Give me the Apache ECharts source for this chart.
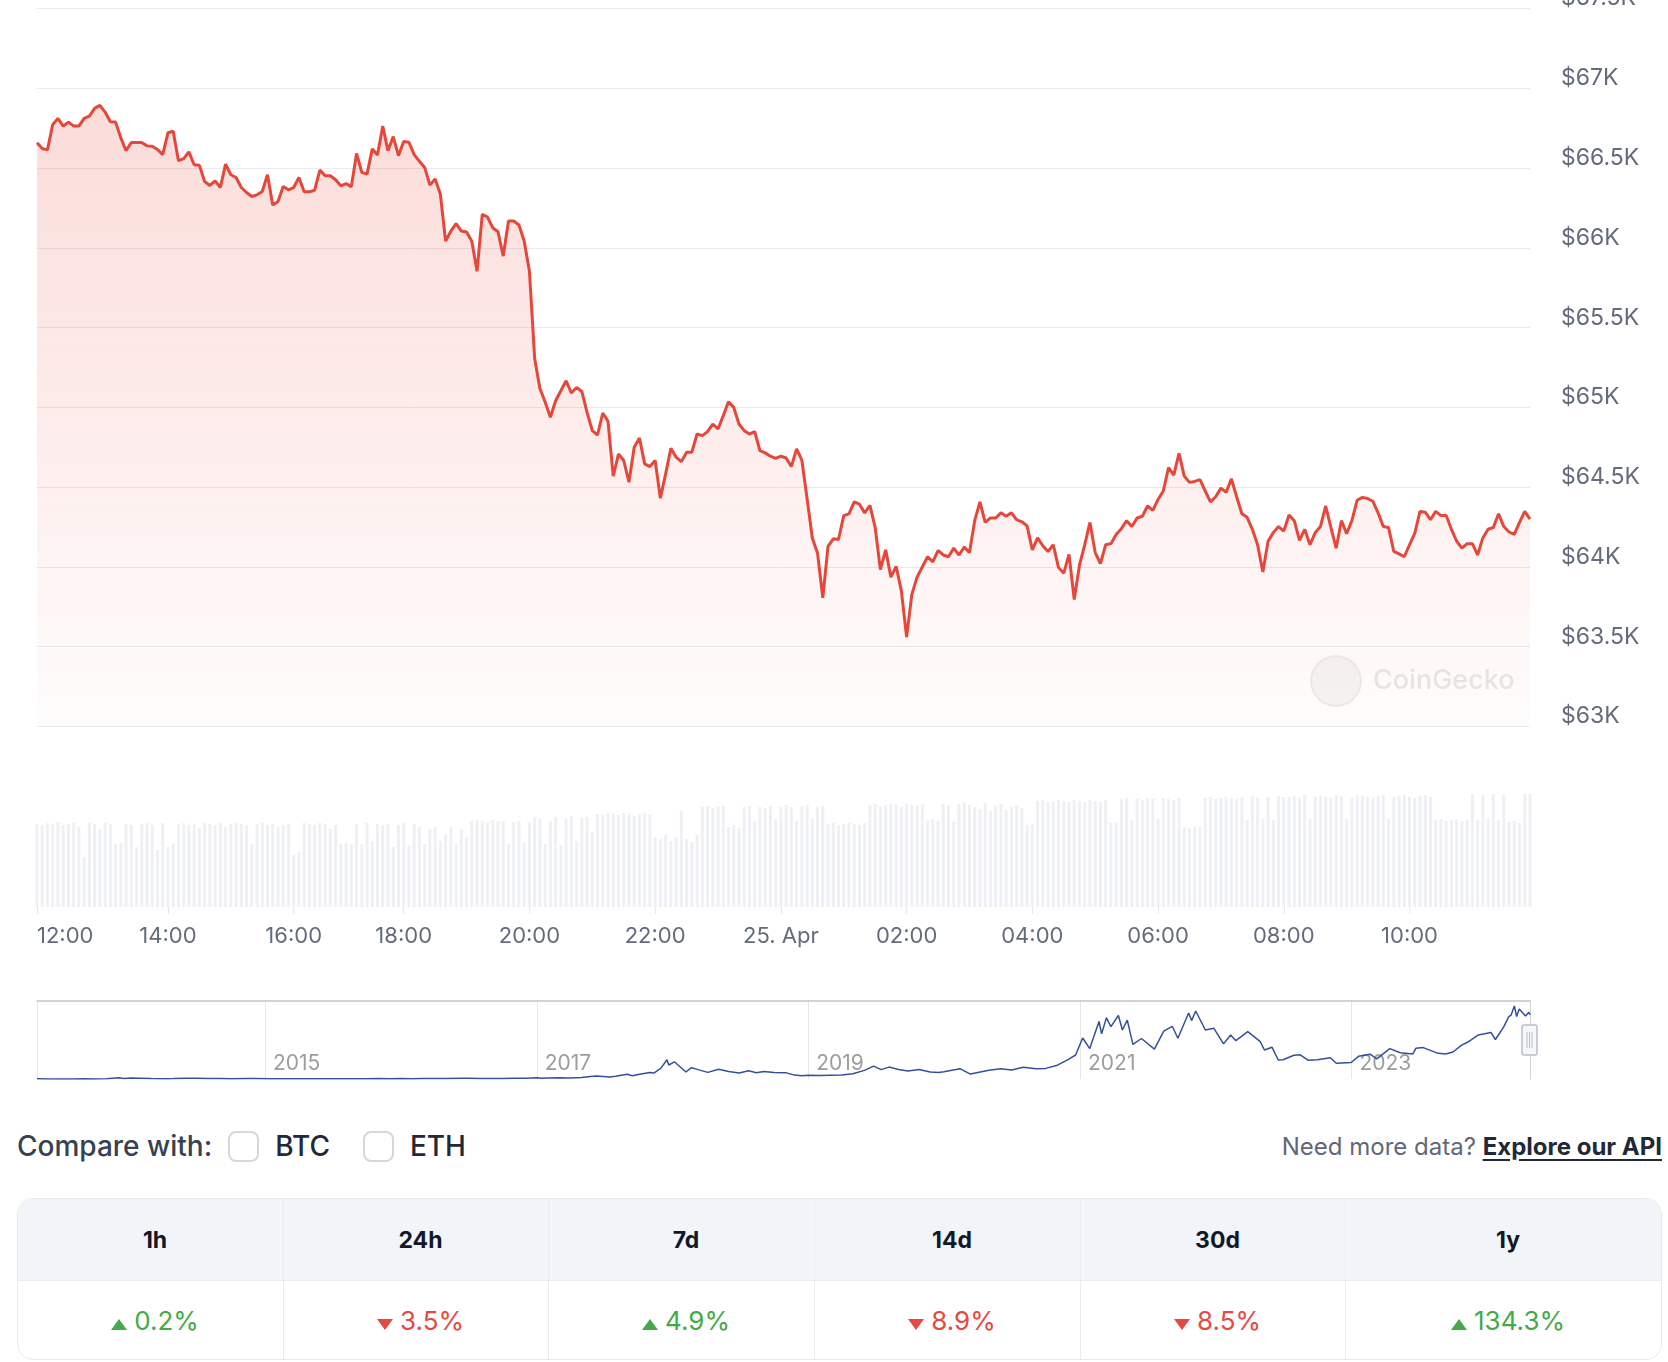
<!DOCTYPE html>
<html>
<head>
<meta charset="utf-8">
<script src="https://cdn.jsdelivr.net/npm/echarts@6/dist/echarts.min.js"></script>
<style>
  html, body { margin: 0; padding: 0; background: #fff; font-family: Inter, "Noto Sans", sans-serif; }
  #main { position: absolute; left: 0; top: 0; width: 1668px; height: 1100px; }
  .row { position: absolute; top: 1125px; left: 17px; width: 1645px; height: 42px; display: flex; align-items: center; }
  .cmp { font-size: 28px; font-weight: 500; color: #364152; margin-right: 16px; }
  .box { width: 31px; height: 31px; box-sizing: border-box; border: 2px solid #d3d8e0; border-radius: 8px; margin-right: 16px; }
  .coin { font-size: 28px; font-weight: 500; color: #1f2937; margin-right: 33px; }
  .more { margin-left: auto; font-size: 24px; color: #5f6878; }
  .more b { color: #1f2937; text-decoration: underline; text-underline-offset: 4px; font-weight: 700; }
  .tbl { position: absolute; left: 17px; top: 1198px; width: 1645px; height: 162px; box-sizing: border-box;
         border: 1px solid #e6e9ee; border-radius: 16px; overflow: hidden;
         display: grid; grid-template-columns: 265px 265px 266px 266px 265px 1fr; grid-template-rows: 82px 1fr; }
  .tbl div { display: flex; align-items: center; justify-content: center; padding-left: 9px; border-left: 1px solid #e9ecf0; }
  .tbl div.first { border-left: none; }
  .tbl .h { background: #f1f4f9; font-size: 23px; font-weight: 700; color: #111827; border-bottom: 1px solid #e9ecf0; }
  .tbl .v { font-size: 26px; }
  .up { color: #45a948; }
  .down { color: #e8483f; }
  .tri { display: inline-block; width: 0; height: 0; margin-right: 7px; border-left: 8px solid transparent; border-right: 8px solid transparent; }
  .up .tri { border-bottom: 11px solid #45a948; }
  .down .tri { border-top: 11px solid #e8483f; }
</style>
</head>
<body>
<div id="main"></div>
<div class="row">
  <span class="cmp">Compare with:</span>
  <span class="box"></span><span class="coin">BTC</span>
  <span class="box"></span><span class="coin">ETH</span>
  <span class="more">Need more data? <b>Explore our API</b></span>
</div>
<div class="tbl" id="tbl"></div>
<script>
// price, 5 min steps, 24 Apr 12:00 -> 25 Apr ~11:50
const prices = [
  66658, 66622, 66614, 66773, 66811, 66763, 66788, 66763, 66763, 66811,
  66826, 66874, 66893, 66851, 66790, 66788, 66689, 66609, 66660, 66660,
  66660, 66639, 66637, 66616, 66584, 66721, 66731, 66546, 66559, 66601,
  66521, 66517, 66416, 66391, 66420, 66378, 66525, 66458, 66441, 66378,
  66347, 66322, 66332, 66353, 66458, 66269, 66290, 66385, 66364,
  66378, 66441, 66351, 66351, 66361, 66487, 66452, 66452, 66427, 66389,
  66403, 66382, 66592, 66473, 66462, 66620, 66582, 66763, 66609, 66697,
  66578, 66666, 66662, 66584, 66542, 66504, 66393, 66431, 66336, 66042,
  66105, 66151, 66105, 66099, 66042, 65853, 66210, 66193, 66126, 66101,
  65948, 66168, 66168, 66143, 66042, 65853, 65307, 65118, 65034,
  64938, 65042, 65104, 65167, 65090, 65125, 65100, 64969, 64854, 64827,
  64965, 64913, 64569, 64708, 64667, 64531, 64750, 64808, 64646, 64629,
  64667, 64431, 64583, 64744, 64688, 64660, 64719, 64719, 64833, 64823,
  64848, 64896, 64865, 64948, 65035, 65000, 64896, 64854, 64833, 64848,
  64729, 64715, 64694, 64681, 64694, 64683, 64629,
  64740, 64670, 64429, 64182, 64086, 63807, 64129, 64176, 64172, 64322,
  64333, 64408, 64393, 64339, 64386, 64247, 63983, 64107, 63936, 64004,
  63850, 63560, 63828, 63936, 64000, 64064, 64032, 64103, 64075, 64064,
  64118, 64075, 64124, 64090, 64290, 64408, 64279, 64307, 64307, 64339,
  64318, 64339, 64296, 64283, 64257, 64107, 64182, 64133,
  64097, 64139, 63996, 63961, 64079, 63796, 64011, 64139, 64279, 64090,
  64021, 64139, 64146, 64204, 64240, 64290, 64253, 64307, 64318, 64382,
  64354, 64423, 64476, 64622, 64575, 64712, 64569, 64530, 64536, 64547,
  64476, 64408, 64440, 64494, 64468, 64552, 64440, 64333, 64311, 64236,
  64139, 63968, 64161, 64215, 64253, 64225, 64326, 64290,
  64167, 64236, 64139, 64215, 64253, 64382, 64247, 64118, 64290, 64208,
  64290, 64418, 64436, 64429, 64412, 64339, 64253, 64247, 64097, 64082,
  64064, 64139, 64210, 64348, 64343, 64296, 64348, 64322, 64322, 64236,
  64161, 64118, 64146, 64146, 64075, 64182, 64236, 64247, 64333, 64253,
  64219, 64204, 64279, 64348, 64300
];

// volume per step (relative)
const volumes = [
  83, 82, 84, 83, 85, 82, 83, 84, 80, 50,
  84, 83, 78, 84, 83, 63, 64, 83, 82, 60,
  83, 84, 82, 57, 84, 60, 63,
  83, 84, 82, 83, 79, 84, 83, 82, 84, 80, 83, 84, 83, 82,
  63, 83, 84, 82, 83, 80, 82, 83, 52, 55,
  84, 83, 82, 84, 83, 78, 82, 63, 64, 63,
  83, 63, 84, 66, 83, 82,
  83, 60, 82, 84, 62, 83, 80, 63,
  78, 80, 66, 72, 80, 63, 78, 70,
  86, 87, 86, 85, 87, 86, 86, 63, 85, 86, 64, 85,
  90, 88, 63, 86, 90, 62, 88, 91, 66, 89, 90, 75,
  93, 92, 94, 93, 92, 94, 93, 91, 93, 94, 92,
  70, 68, 72, 66, 70, 96, 68, 65, 72,
  100, 101, 99, 100, 101, 80, 82, 79,
  100, 101, 86, 100, 99, 101, 88, 100, 102, 100, 86, 101, 102, 88, 100, 101,
  83, 84, 82, 83, 84, 83, 82, 84,
  102, 103, 101, 102, 103, 102, 100, 103, 102, 101, 103,
  87, 88, 86, 103, 102, 85, 103, 104, 102,
  100, 98, 104, 96, 101, 103, 97, 100, 102, 99, 82, 83,
  106, 107, 105, 106, 107, 106, 105, 107, 106, 105, 107, 106, 105, 107,
  84, 85,
  108, 109, 87, 108, 107, 109, 108, 88, 109, 108, 107, 109,
  80, 79, 81, 80,
  109, 110, 108, 109, 110, 109, 108,
  110, 87, 111, 109, 88, 110, 87, 111, 110,
  110, 111, 109, 112, 88, 110, 111, 110, 109, 112,
  111, 88, 110, 112, 111, 110, 109, 111, 112, 88,
  110, 111, 112, 110, 109, 111, 112, 110,
  87, 88, 86, 87, 88, 86, 87,
  113, 87, 112, 88, 113, 87, 112,
  85, 86, 84, 113, 113
];

const tickIndex = [0, 25, 49, 70, 94, 118, 142, 166, 190, 214, 238, 262];
const tickLabels = ['12:00', '14:00', '16:00', '18:00', '20:00', '22:00', '25. Apr', '02:00', '04:00', '06:00', '08:00', '10:00'];

// all-time navigator
const navDates = [
  '2013-04-28', '2013-06-01', '2013-07-05', '2013-08-01', '2013-09-01', '2013-10-01', '2013-11-01', '2013-12-04', '2013-12-18',
  '2014-01-05', '2014-02-01', '2014-03-01', '2014-04-11', '2014-05-01', '2014-06-03', '2014-07-01', '2014-08-01', '2014-09-01', '2014-10-05', '2014-11-12', '2014-12-01',
  '2015-01-14', '2015-02-01', '2015-03-11', '2015-04-01', '2015-05-01', '2015-06-01', '2015-07-10', '2015-08-01', '2015-09-01', '2015-10-01', '2015-11-04', '2015-12-01',
  '2016-01-01', '2016-02-01', '2016-03-01', '2016-04-01', '2016-05-01', '2016-06-17', '2016-07-01', '2016-08-02', '2016-09-01', '2016-10-01', '2016-11-01', '2016-12-01',
  '2017-01-04', '2017-01-12', '2017-02-01', '2017-03-03', '2017-03-25', '2017-04-01', '2017-05-01', '2017-05-25', '2017-06-11', '2017-07-16', '2017-08-01', '2017-09-01',
  '2017-09-15', '2017-10-01', '2017-11-01', '2017-11-12', '2017-12-01', '2017-12-17', '2017-12-22',
  '2018-01-06', '2018-02-06', '2018-02-20', '2018-03-01', '2018-04-06', '2018-05-05', '2018-06-01', '2018-06-29', '2018-07-25', '2018-08-14', '2018-09-04', '2018-10-01',
  '2018-11-01', '2018-11-25', '2018-12-15',
  '2019-01-01', '2019-02-01', '2019-03-01', '2019-04-01', '2019-05-01', '2019-06-01', '2019-06-26', '2019-07-16', '2019-08-06', '2019-09-01', '2019-09-26', '2019-10-26',
  '2019-11-25', '2019-12-18',
  '2020-01-01', '2020-02-13', '2020-03-12', '2020-04-01', '2020-05-01', '2020-06-01', '2020-07-01', '2020-08-01', '2020-09-05', '2020-10-01', '2020-11-01', '2020-12-01', '2020-12-20',
  '2021-01-08', '2021-01-27', '2021-02-21', '2021-02-28', '2021-03-13', '2021-03-25', '2021-04-14', '2021-04-25', '2021-05-08', '2021-05-23', '2021-06-15', '2021-07-20',
  '2021-08-14', '2021-09-06', '2021-09-21', '2021-10-20', '2021-10-28', '2021-11-08', '2021-12-04', '2021-12-27',
  '2022-01-22', '2022-02-10', '2022-02-24', '2022-03-28', '2022-04-30', '2022-05-12', '2022-06-01', '2022-06-18', '2022-07-01', '2022-07-30', '2022-08-15', '2022-09-06',
  '2022-10-01', '2022-11-05', '2022-11-21', '2022-12-31',
  '2023-01-20', '2023-02-20', '2023-03-10', '2023-04-14', '2023-05-12', '2023-06-15', '2023-06-23', '2023-07-13', '2023-08-18', '2023-09-11', '2023-10-01', '2023-10-24',
  '2023-11-09', '2023-12-08',
  '2024-01-11', '2024-01-23', '2024-02-14', '2024-02-28', '2024-03-05', '2024-03-14', '2024-03-20', '2024-03-27', '2024-04-13', '2024-04-18', '2024-04-22', '2024-04-25'
];
const navPrices = [
  135, 122, 75, 105, 140, 125, 205, 1150, 520,
  930, 830, 560, 360, 450, 665, 640, 585, 475, 320, 430, 380,
  180, 225, 295, 245, 235, 225, 295, 280, 230, 237, 410, 375,
  430, 375, 435, 416, 450, 750, 675, 540, 570, 610, 730, 750,
  1150, 780, 990, 1280, 900, 1080, 1400, 2500, 2950, 1950, 2750, 4700,
  3250, 4400, 6450, 5950, 10900, 19300, 14000,
  17200, 7000, 11200, 10400, 6600, 9800, 7500, 5900, 8200, 6200, 7400, 6600,
  6350, 3900, 3250,
  3850, 3450, 3800, 4100, 5300, 8600, 12900, 9400, 11900, 9600, 8000, 9500,
  6900, 6600,
  7200, 10300, 4900, 6600, 8800, 10200, 9100, 11800, 10200, 10600, 13800, 19700, 24000,
  41000, 30400, 57500, 45200, 61200, 52300, 63500, 49000, 58800, 34700, 40500, 29800,
  47800, 52700, 40700, 66000, 58400, 68000, 49000, 50700,
  35100, 44000, 38300, 47400, 37700, 29000, 31800, 19000, 19300, 23800, 24300, 18800,
  19300, 21300, 15800, 16500,
  22700, 24800, 20200, 30400, 26300, 25100, 30700, 31400, 26100, 25100, 27000, 33900,
  36700, 44100,
  46600, 39500, 51800, 62400, 63800, 73100, 62400, 70000, 63000, 61200, 66800, 64300
];

const periods = ['1h', '24h', '7d', '14d', '30d', '1y'];
const changes = [0.2, -3.5, 4.9, -8.9, -8.5, 134.3];

const idx = prices.map((_, i) => i);
const showTick = (i) => tickIndex.indexOf(i) >= 0;

const chart = echarts.init(document.getElementById('main'));
chart.setOption({
    animation: false,
    textStyle: { fontFamily: 'Inter' },
    grid: [
        { left: 37, right: 138, top: 8.5, height: 718, outerBoundsMode: 'none' },
        { left: 37, right: 138, top: 777, height: 130, outerBoundsMode: 'none' },
        { left: 37, right: 138, top: 1001, height: 78, outerBoundsMode: 'none' }
    ],
    xAxis: [
        { type: 'category', gridIndex: 0, data: idx, boundaryGap: false, show: false },
        {
            type: 'category', gridIndex: 1, data: idx, boundaryGap: false,
            axisLine: { show: false },
            axisTick: { show: true, interval: showTick, length: 7, lineStyle: { color: '#e3e6eb' } },
            axisLabel: {
                interval: showTick,
                formatter: (v, i) => tickLabels[tickIndex.indexOf(Number(v))],
                color: '#646b7a', fontSize: 22, margin: 18, alignMinLabel: 'left'
            }
        },
        {
            type: 'time', gridIndex: 2, min: '2013-04-28', max: '2024-04-25',
            axisLine: { show: false },
            axisTick: { show: false },
            splitLine: { show: true, lineStyle: { color: '#e4e6ea' } },
            axisLabel: {
                inside: true, formatter: '{yyyy}', color: '#9d9d9d', fontSize: 21,
                align: 'left', verticalAlign: 'bottom', margin: 5, padding: [0, 0, 0, 8],
                showMinLabel: false, showMaxLabel: false
            }
        },
        {
            type: 'time', gridIndex: 2, position: 'top', min: '2013-04-28', max: '2024-04-25',
            axisLine: { show: true, lineStyle: { color: '#cfd4dc', width: 2 } },
            axisTick: { show: false }, axisLabel: { show: false }, splitLine: { show: false }
        }
    ],
    yAxis: [
        {
            type: 'value', gridIndex: 0, position: 'right', min: 63000, max: 67500, interval: 500,
            axisLine: { show: false }, axisTick: { show: false },
            splitLine: { lineStyle: { color: '#e8eaee' } },
            axisLabel: {
                formatter: v => '$' + (v / 1000) + 'K',
                color: '#646b7a', fontSize: 23, lineHeight: 20, margin: 31, align: 'left', verticalAlign: 'bottom'
            }
        },
        { type: 'value', gridIndex: 1, min: 0, max: 130, show: false },
        {
            type: 'value', gridIndex: 2, position: 'right', min: 0, max: 78000,
            axisLine: { show: true, lineStyle: { color: '#cfd4dc' } },
            axisTick: { show: false }, axisLabel: { show: false }, splitLine: { show: false }
        }
    ],
    series: [
        {
            type: 'line', xAxisIndex: 0, yAxisIndex: 0, data: prices,
            symbol: 'none', z: 3,
            lineStyle: { color: '#e6473a', width: 3 },
            areaStyle: {
                color: new echarts.graphic.LinearGradient(0, 0, 0, 1, [
                    { offset: 0, color: 'rgba(234,76,60,0.28)' },
                    { offset: 1, color: 'rgba(234,76,60,0.02)' }
                ])
            }
        },
        {
            type: 'bar', xAxisIndex: 1, yAxisIndex: 1, data: volumes,
            barWidth: 3, itemStyle: { color: '#eef0f4' }
        },
        {
            type: 'line', xAxisIndex: 2, yAxisIndex: 2,
            data: navDates.map((d, i) => [d, navPrices[i]]),
            symbol: 'none', lineStyle: { color: '#34509c', width: 1.5 }
        }
    ],
    graphic: [
        { type: 'circle', shape: { cx: 1336, cy: 681, r: 25 }, style: { fill: 'rgba(120,120,120,0.07)', stroke: 'rgba(120,120,120,0.1)', lineWidth: 2 }, z: 10 },
        { type: 'text', x: 1373, y: 681, style: { text: 'CoinGecko', font: '500 27px Inter', fill: 'rgba(120,120,120,0.18)', verticalAlign: 'middle' }, z: 10 },
        { type: 'rect', shape: { x: 1522, y: 1025, width: 15, height: 30, r: 2 }, style: { fill: '#f7f7f7', stroke: '#b9bfc9', lineWidth: 1.5 }, z: 10 },
        { type: 'line', shape: { x1: 1527, y1: 1032, x2: 1527, y2: 1048 }, style: { stroke: '#b9bfc9', lineWidth: 1 }, z: 11 },
        { type: 'line', shape: { x1: 1529.5, y1: 1032, x2: 1529.5, y2: 1048 }, style: { stroke: '#b9bfc9', lineWidth: 1 }, z: 11 },
        { type: 'line', shape: { x1: 1532, y1: 1032, x2: 1532, y2: 1048 }, style: { stroke: '#b9bfc9', lineWidth: 1 }, z: 11 }
    ]
});

// change table
const tbl = document.getElementById('tbl');
let head = '', body = '';
periods.forEach((p, i) => {
    const cls = i === 0 ? ' first' : '';
    head += '<div class="h' + cls + '">' + p + '</div>';
    const c = changes[i];
    body += '<div class="v' + cls + '"><span class="' + (c >= 0 ? 'up' : 'down') + '"><span class="tri"></span>' + Math.abs(c).toFixed(1) + '%</span></div>';
});
tbl.innerHTML = head + body;
</script>
</body>
</html>
